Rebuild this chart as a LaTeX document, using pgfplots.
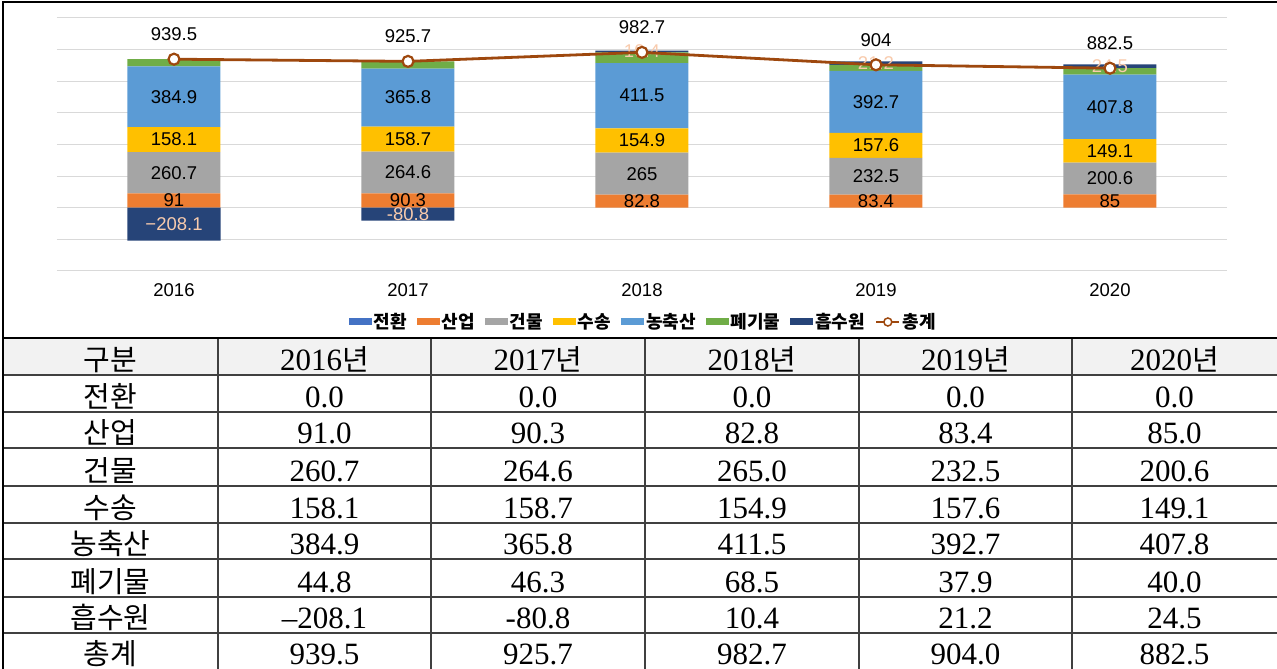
\documentclass[border=0pt]{standalone}
\usepackage{fontspec}
\usepackage{pgfplots}
\pgfplotsset{compat=1.18}
\setmainfont{Liberation Sans}
\newfontfamily\kr{Noto Sans CJK KR}
\newfontfamily\ser{Liberation Serif}
\definecolor{c1}{HTML}{4472C4}
\definecolor{c2}{HTML}{ED7D31}
\definecolor{c3}{HTML}{A5A5A5}
\definecolor{c4}{HTML}{FFC000}
\definecolor{c5}{HTML}{5B9BD5}
\definecolor{c6}{HTML}{70AD47}
\definecolor{c7}{HTML}{264478}
\definecolor{c8}{HTML}{9E480E}
\definecolor{gridc}{HTML}{D9D9D9}
\definecolor{peach}{HTML}{F8CBAD}
\definecolor{hdr}{HTML}{F2F2F2}
\definecolor{tline}{HTML}{404040}
\pgfplotsset{myleg/.style={legend image code/.code={\fill[##1] (0pt,-3.5pt) rectangle (23pt,3.5pt);}}}
\newcommand{\lab}{\fontsize{18.5}{18.5}\selectfont}
\begin{document}
\begin{tikzpicture}
\useasboundingbox (0pt,0pt) rectangle (1277pt,669pt);
\begin{axis}[
  at={(57pt,398pt)}, anchor=south west,
  scale only axis, width=1170pt, height=253pt,
  xmin=-0.5, xmax=4.5, ymin=-400, ymax=1200,
  ybar stacked, bar width=93pt,
  xtick={0,1,2,3,4}, xticklabels={2016,2017,2018,2019,2020},
  ytick={-400,-200,...,1200}, yticklabels={},
  ymajorgrids, major grid style={draw=gridc, line width=1pt},
  axis line style={draw=none}, major tick length=0pt,
  xticklabel style={font=\lab, yshift=-9pt},
  point meta=explicit symbolic,
  every node near coord/.append style={anchor=center, font=\lab, text=black},
  legend style={at={(0.501,-0.2016)}, anchor=center, draw=none, fill=none,
    font=\kr\bfseries\fontsize{18}{18}\selectfont,
    /tikz/every even column/.append style={column sep=8pt},
    nodes={inner xsep=2pt}},
  legend columns=-1,
]
\addplot[fill=c1, draw=none, myleg] coordinates {(0,0) (1,0) (2,0) (3,0) (4,0)};
\addlegendentry{전환}
\addplot[fill=c2, draw=none, myleg, nodes near coords] coordinates {(0,91)[91] (1,90.3)[90.3] (2,82.8)[82.8] (3,83.4)[83.4] (4,85)[85]};
\addlegendentry{산업}
\addplot[fill=c3, draw=none, myleg, nodes near coords] coordinates {(0,260.7)[260.7] (1,264.6)[264.6] (2,265)[265] (3,232.5)[232.5] (4,200.6)[200.6]};
\addlegendentry{건물}
\addplot[fill=c4, draw=none, myleg, nodes near coords] coordinates {(0,158.1)[158.1] (1,158.7)[158.7] (2,154.9)[154.9] (3,157.6)[157.6] (4,149.1)[149.1]};
\addlegendentry{수송}
\addplot[fill=c5, draw=none, myleg, nodes near coords] coordinates {(0,384.9)[384.9] (1,365.8)[365.8] (2,411.5)[411.5] (3,392.7)[392.7] (4,407.8)[407.8]};
\addlegendentry{농축산}
\addplot[fill=c6, draw=none, myleg] coordinates {(0,44.8) (1,46.3) (2,68.5) (3,37.9) (4,40)};
\addlegendentry{폐기물}
\addplot[fill=c7, draw=none, myleg, nodes near coords, every node near coord/.append style={text=peach}] coordinates {(0,0)[{}] (1,0)[{}] (2,10.4)[10.4] (3,21.2)[21.2] (4,24.5)[24.5]};
\addlegendentry{흡수원}
\addlegendimage{legend image code/.code={\draw[c8,line width=2.5pt] (0pt,0pt) -- (23pt,0pt); \draw[c8,fill=white,line width=1.5pt] (11.5pt,0pt) circle (4pt);}}
\addlegendentry{총계}
\end{axis}
\begin{axis}[
  at={(57pt,398pt)}, anchor=south west,
  scale only axis, width=1170pt, height=253pt,
  xmin=-0.5, xmax=4.5, ymin=-400, ymax=1200,
  hide axis, clip=false,
  point meta=explicit symbolic,
]
\addplot[ybar, bar width=93pt, bar shift=0pt, fill=c7, draw=none, nodes near coords,
  visualization depends on={rawy \as \rawy},
  every node near coord/.append style={anchor=center, shift={(axis direction cs:0,-\rawy/2)}, font=\lab, text=peach}]
  coordinates {(0,-208.1)[−208.1] (1,-80.8)[-80.8]};
\addplot[sharp plot, draw=c8, line width=2.8pt, mark=*, mark size=5.5pt,
  mark options={fill=white, draw=c8, line width=2.2pt},
  nodes near coords, every node near coord/.append style={anchor=center, yshift=25pt, font=\lab, text=black}]
  coordinates {(0,939.5)[939.5] (1,925.7)[925.7] (2,982.7)[982.7] (3,904)[904] (4,882.5)[882.5]};
\end{axis}
\begin{scope}[x=1pt,y=1pt]
\fill[hdr] (3,294) rectangle (1277,331);
\foreach \y in {294,257,221,183,146,110,72,36} \draw[tline, line width=1.3pt] (3,\y) -- (1277,\y);
\foreach \x in {218,431,645,859,1072} \draw[tline, line width=1.3pt] (\x,0) -- (\x,331);
\draw[black, line width=2pt] (3,331) -- (1277,331);
\draw[black, line width=1.5pt] (3,0) -- (3,667) -- (1277,667);
\tikzset{num/.style={anchor=base, inner sep=0pt, font=\ser\fontsize{31}{31}\selectfont},
         kor/.style={anchor=base, inner sep=0pt, font=\kr\fontsize{29}{29}\selectfont}}
\foreach \t/\y in {구분/298.5, 전환/261.5, 산업/225.5, 건물/187.5, 수송/150.5, 농축산/114.5, 폐기물/76.5, 흡수원/40.5, 총계/4.5}
  \node[kor] at (110.5,\y) {\t};
\foreach \x/\yr in {324.5/2016, 538/2017, 752/2018, 965.5/2019, 1174.5/2020}
  \node[num] at (\x,298.5) {\yr{\kr\fontsize{29}{29}\selectfont 년}};
\foreach \x/\v in {324.5/0.0, 538/0.0, 752/0.0, 965.5/0.0, 1174.5/0.0} \node[num] at (\x,261.5) {\v};
\foreach \x/\v in {324.5/91.0, 538/90.3, 752/82.8, 965.5/83.4, 1174.5/85.0} \node[num] at (\x,225.5) {\v};
\foreach \x/\v in {324.5/260.7, 538/264.6, 752/265.0, 965.5/232.5, 1174.5/200.6} \node[num] at (\x,187.5) {\v};
\foreach \x/\v in {324.5/158.1, 538/158.7, 752/154.9, 965.5/157.6, 1174.5/149.1} \node[num] at (\x,150.5) {\v};
\foreach \x/\v in {324.5/384.9, 538/365.8, 752/411.5, 965.5/392.7, 1174.5/407.8} \node[num] at (\x,114.5) {\v};
\foreach \x/\v in {324.5/44.8, 538/46.3, 752/68.5, 965.5/37.9, 1174.5/40.0} \node[num] at (\x,76.5) {\v};
\foreach \x/\v in {324.5/–208.1, 538/-80.8, 752/10.4, 965.5/21.2, 1174.5/24.5} \node[num] at (\x,40.5) {\v};
\foreach \x/\v in {324.5/939.5, 538/925.7, 752/982.7, 965.5/904.0, 1174.5/882.5} \node[num] at (\x,4.5) {\v};
\end{scope}
\end{tikzpicture}
\end{document}
